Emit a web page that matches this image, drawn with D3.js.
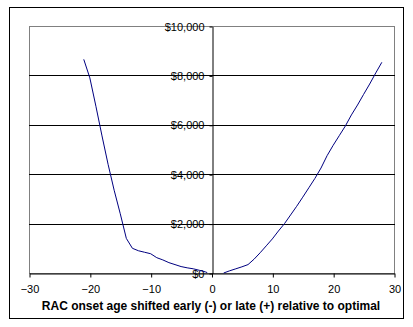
<!DOCTYPE html>
<html>
<head>
<meta charset="utf-8">
<script src="https://cdn.jsdelivr.net/npm/d3@7"></script>
<style>
  html, body { margin: 0; padding: 0; background: #fff; }
  svg { display: block; }
  text { font-family: "Liberation Sans", Arial, sans-serif; }
</style>
</head>
<body>
<svg id="chart" width="413" height="327"></svg>
<script>
// Early shift (negative ages) and late shift (positive ages), cost in dollars
const ageEarly  = [-21, -20, -19, -18, -17, -16, -15, -14, -13, -12, -11, -10, -9, -8, -7, -6, -5, -4, -3, -2, -1, -0.7];
const costEarly = [8650, 7900, 6750, 5550, 4400, 3350, 2400, 1400, 1000, 900, 840, 780, 620, 530, 420, 340, 260, 210, 170, 110, 45, 15];
const ageLate   = [2, 3, 4, 5, 6, 7, 8, 9, 10, 11, 12, 13, 14, 15, 16, 17, 18, 19, 20, 21, 22, 23, 24, 25, 26, 27, 28];
const costLate  = [0, 90, 170, 250, 340, 560, 820, 1100, 1380, 1700, 2000, 2350, 2700, 3070, 3450, 3830, 4250, 4750, 5170, 5560, 5950, 6400, 6800, 7230, 7650, 8100, 8530];

const xTicks = [-30, -20, -10, 0, 10, 20, 30];
const yTicks = [0, 2000, 4000, 6000, 8000, 10000];
const xTitle = "RAC onset age shifted early (-) or late (+) relative to optimal";

const svg = d3.select("#chart");
const crisp = v => Math.round(v) + 0.5;

const plot = { left: 29, top: 26, right: 394, bottom: 273 };

const x = d3.scaleLinear().domain([-30, 30]).range([plot.left, plot.right]);
const y = d3.scaleLinear().domain([0, 10000]).range([plot.bottom, plot.top]);

// outer chart frame
svg.append("rect")
  .attr("x", 9.5).attr("y", 7.5)
  .attr("width", 394).attr("height", 311)
  .attr("fill", "none").attr("stroke", "#000").attr("stroke-width", 1);

// plot area frame (grey)
svg.append("rect")
  .attr("x", plot.left + 0.5).attr("y", plot.top + 0.5)
  .attr("width", plot.right - plot.left).attr("height", plot.bottom - plot.top)
  .attr("fill", "none").attr("stroke", "#808080").attr("stroke-width", 1);

// horizontal gridlines
svg.append("g").selectAll("line")
  .data(yTicks.filter(v => v > 0 && v < 10000))
  .join("line")
  .attr("x1", plot.left).attr("x2", plot.right + 1)
  .attr("y1", d => crisp(y(d))).attr("y2", d => crisp(y(d)))
  .attr("stroke", "#000").attr("stroke-width", 1);

// x axis along y = 0
const xAxis = d3.axisBottom(x).tickValues(xTicks).tickSize(4).tickSizeOuter(0).tickFormat(d3.format("d"));
const gx = svg.append("g")
  .attr("transform", `translate(0.5,${crisp(y(0))})`)
  .call(xAxis);
gx.select(".domain").attr("stroke", "#000");
gx.selectAll(".tick line").attr("stroke", "#000");
gx.selectAll(".tick text")
  .attr("y", 12)
  .attr("font-size", 11)
  .attr("font-family", "Liberation Sans, Arial, sans-serif")
  .attr("fill", "#000");

// y axis at x = 0
const yAxis = d3.axisLeft(y).tickValues(yTicks).tickSize(3).tickSizeOuter(0)
  .tickFormat(d => "$" + d3.format(",")(d));
const gy = svg.append("g")
  .attr("transform", `translate(${crisp(x(0))},0.5)`)
  .call(yAxis);
gy.select(".domain").attr("stroke", "#000");
gy.selectAll(".tick line").attr("stroke", "#000");
gy.selectAll(".tick text")
  .attr("x", -8)
  .attr("font-size", 11)
  .attr("font-family", "Liberation Sans, Arial, sans-serif")
  .attr("fill", "#000");

// cost curves
const line = d3.line().x(d => x(d[0])).y(d => y(d[1]));
const series = [d3.zip(ageEarly, costEarly), d3.zip(ageLate, costLate)];
svg.append("g").selectAll("path")
  .data(series)
  .join("path")
  .attr("d", line)
  .attr("fill", "none")
  .attr("stroke", "#000080")
  .attr("stroke-width", 1);

// x axis title
svg.append("text")
  .attr("x", 211).attr("y", 310)
  .attr("text-anchor", "middle")
  .attr("font-size", 12)
  .attr("font-weight", "bold")
  .attr("fill", "#000")
  .text(xTitle);
</script>
</body>
</html>
